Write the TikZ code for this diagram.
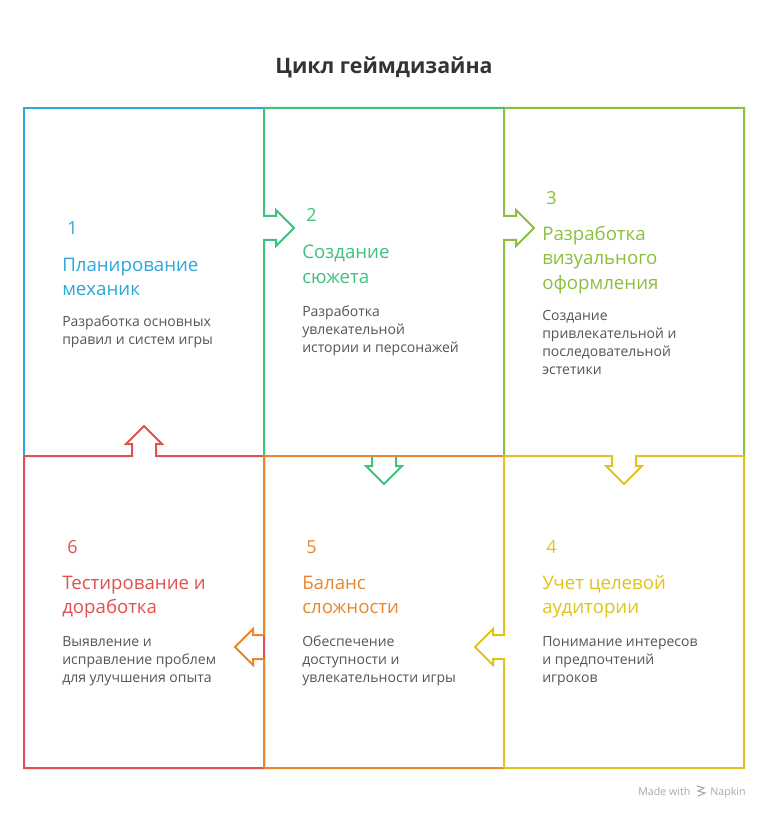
\documentclass[tikz,border=0pt]{standalone}
\usepackage{fontspec}
\setmainfont{Open Sans}
\definecolor{cblue}{HTML}{2AA7DB}
\definecolor{cgreen}{HTML}{3EC27F}
\definecolor{clime}{HTML}{8CBF3F}
\definecolor{cyellow}{HTML}{E0C31C}
\definecolor{corange}{HTML}{E8872E}
\definecolor{cred}{HTML}{E0514F}
\definecolor{cbody}{HTML}{555555}
\definecolor{chead}{HTML}{333333}
\definecolor{cnap}{HTML}{A8A8A8}
\tikzset{
  edge/.style={line width=1.5pt, line join=miter},
  num/.style={anchor=base west, inner sep=0pt, font=\fontsize{13.5pt}{16pt}\selectfont},
  ttl/.style={anchor=base west, inner sep=0pt, font=\fontsize{14pt}{17pt}\selectfont},
  body/.style={anchor=base west, inner sep=0pt, text=cbody, font=\fontsize{10.5pt}{12pt}\selectfont},
}
\begin{document}
\begin{tikzpicture}[x=0.75pt,y=-0.75pt]
\useasboundingbox[fill=white] (0,0) rectangle (768,816);
% title
\node[anchor=base, inner sep=0pt, text=chead, font=\fontsize{16pt}{19pt}\selectfont\bfseries] (title) at (384,74) {Цикл геймдизайна};
% box 1 (blue): top and left
\draw[edge, cblue] (24,456) -- (24,108) -- (264,108);
% box 3 (lime): left edge with arrow, top, right
\draw[edge, clime] (504,456) -- (504,240) -- (516,240) -- (516,246) -- (534,228) -- (516,210) -- (516,216) -- (504,216) -- (504,108) -- (744,108) -- (744,456);
% box 2 (green): top, left edge with arrow
\draw[edge, cgreen] (504,108) -- (264,108) -- (264,216) -- (276,216) -- (276,210) -- (294,228) -- (276,246) -- (276,240) -- (264,240) -- (264,456);
% green down arrow into box 5
\draw[edge, cgreen] (372,456) -- (372,466) -- (366,466) -- (384,484) -- (402,466) -- (396,466) -- (396,456);
% box 6 (red) with up arrow into box 1
\draw[edge, cred] (264,456) -- (156,456) -- (156,444) -- (162,444) -- (144,426) -- (126,444) -- (132,444) -- (132,456) -- (24,456) -- (24,768) -- (264,768) -- cycle;
% box 5 (orange): top, left edge with arrow, bottom
\draw[edge, corange] (504,456) -- (264,456) -- (264,635) -- (253,635) -- (253,629) -- (235,647) -- (253,665) -- (253,659) -- (264,659) -- (264,768) -- (504,768);
% box 4 (yellow) with down notch and left arrow
\draw[edge, cyellow] (504,456) -- (612,456) -- (612,466) -- (606,466) -- (624,484) -- (642,466) -- (636,466) -- (636,456) -- (744,456) -- (744,768) -- (504,768) -- (504,659) -- (493,659) -- (493,665) -- (475,647) -- (493,629) -- (493,635) -- (504,635) -- cycle;

% box 1 texts
\node[num, text=cblue] (n1) at (67,235) {1};
\node[ttl, text=cblue] (t1a) at (62,272) {Планирование};
\node[ttl, text=cblue] (t1b) at (62,296) {механик};
\node[body] (b1a) at (62,326) {Разработка основных};
\node[body] (b1b) at (62,344) {правил и систем игры};
% box 2 texts
\node[num, text=cgreen] (n2) at (306,222) {2};
\node[ttl, text=cgreen] (t2a) at (302,259) {Создание};
\node[ttl, text=cgreen] (t2b) at (302,283) {сюжета};
\node[body] (b2a) at (302,316) {Разработка};
\node[body] (b2b) at (302,334) {увлекательной};
\node[body] (b2c) at (302,352) {истории и персонажей};
% box 3 texts
\node[num, text=clime] (n3) at (546,205) {3};
\node[ttl, text=clime] (t3a) at (542,241) {Разработка};
\node[ttl, text=clime] (t3b) at (542,265) {визуального};
\node[ttl, text=clime] (t3c) at (542,289) {оформления};
\node[body] (b3a) at (542,320) {Создание};
\node[body] (b3b) at (542,338) {привлекательной и};
\node[body] (b3c) at (542,356) {последовательной};
\node[body] (b3d) at (542,374) {эстетики};
% box 4 texts
\node[num, text=cyellow] (n4) at (546,553) {4};
\node[ttl, text=cyellow] (t4a) at (542,589) {Учет целевой};
\node[ttl, text=cyellow] (t4b) at (542,613) {аудитории};
\node[body] (b4a) at (542,646) {Понимание интересов};
\node[body] (b4b) at (542,664) {и предпочтений};
\node[body] (b4c) at (542,682) {игроков};
% box 5 texts
\node[num, text=corange] (n5) at (306,553) {5};
\node[ttl, text=corange] (t5a) at (302,589) {Баланс};
\node[ttl, text=corange] (t5b) at (302,613) {сложности};
\node[body] (b5a) at (302,646) {Обеспечение};
\node[body] (b5b) at (302,664) {доступности и};
\node[body] (b5c) at (302,682) {увлекательности игры};
% box 6 texts
\node[num, text=cred] (n6) at (67,553) {6};
\node[ttl, text=cred] (t6a) at (62,589) {Тестирование и};
\node[ttl, text=cred] (t6b) at (62,613) {доработка};
\node[body] (b6a) at (62,646) {Выявление и};
\node[body] (b6b) at (62,664) {исправление проблем};
\node[body] (b6c) at (62,682) {для улучшения опыта};

% Made with Napkin
\node[anchor=base west, inner sep=0pt, text=cnap, font=\fontsize{8pt}{10pt}\selectfont] (made) at (638,795) {Made with};
\draw[cnap, line width=0.8pt] (697,786) -- (704,788) -- (698,791) -- (705,793) -- (698,796);
\node[anchor=base west, inner sep=0pt, text=cnap, font=\fontsize{8pt}{10pt}\selectfont] (napkin) at (710,795) {Napkin};
\end{tikzpicture}
\end{document}
